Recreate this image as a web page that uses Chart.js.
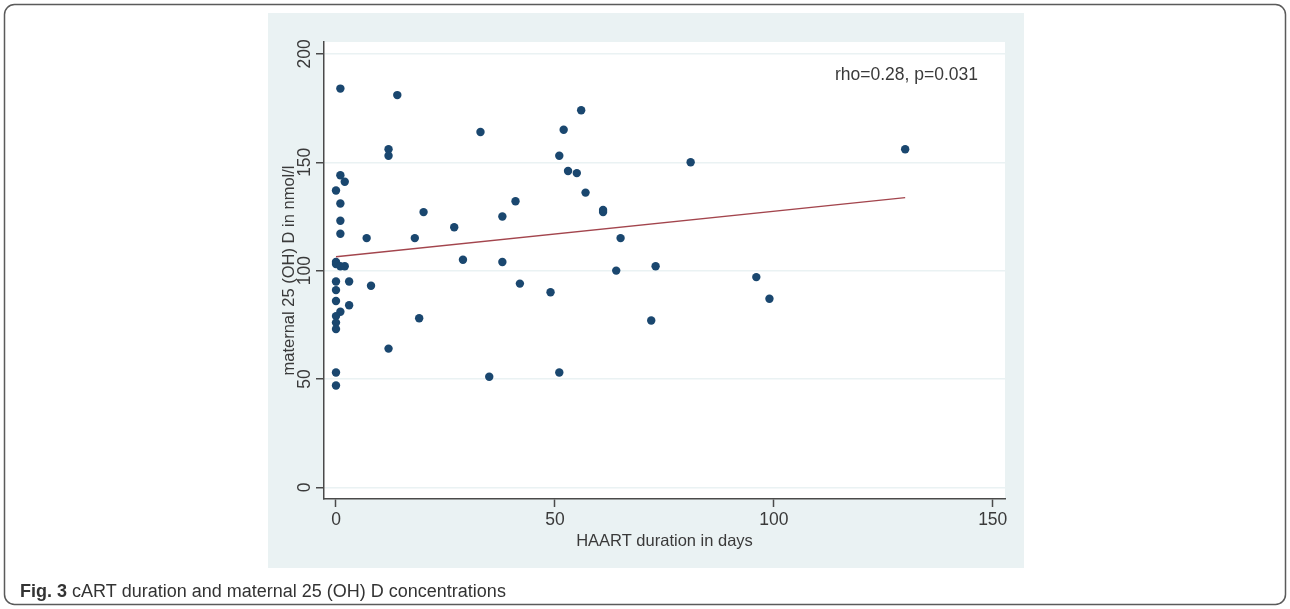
<!DOCTYPE html>
<html><head><meta charset="utf-8">
<script src="https://cdn.jsdelivr.net/npm/chart.js@4.4.1/dist/chart.umd.min.js"></script>
<style>html,body{margin:0;padding:0;background:#fff;overflow:hidden;} canvas{display:block;}</style>
</head><body>
<canvas id="c" width="1290" height="609"></canvas>
<script>
// ---- data ----
const haartDays = [1,14,33,12,12,52,51,53,55,56,57,61,61,81,65,64,73,96,99,72,51,130,
  1,2,0,1,41,20,38,1,27,1,7,18,29,38,0,0,1,2,0,3,8,42,0,49,0,3,1,0,0,0,19,12,0,0,35];
const vitD = [184,181,164,156,153,165,153,146,145,174,136,128,127,150,115,100,102,97,87,77,53,156,
  144,141,137,131,132,127,125,123,120,117,115,115,105,104,104,103,102,102,95,95,93,94,91,90,86,84,81,79,76,73,78,64,53,47,51];
const fitX = [0, 130];
const fitY = [106.4, 133.7];
const xTicks = [0, 50, 100, 150];
const yTicks = [0, 50, 100, 150, 200];
const xTitle = 'HAART duration in days';
const yTitle = 'maternal 25 (OH) D in nmol/l';
const annotationText = 'rho=0.28, p=0.031';
const captionBold = 'Fig. 3';
const captionText = ' cART duration and maternal 25 (OH) D concentrations';

const FONT = '"Liberation Sans", Arial, Helvetica, sans-serif';
const TXT = '#3a3a3a';
const AXIS = '#4a4a4a';
const PANEL = '#eaf2f3';

const framePlugin = {
  id: 'frame',
  beforeDraw(chart) {
    const ctx = chart.ctx, a = chart.chartArea;
    ctx.save();
    ctx.fillStyle = '#ffffff';
    ctx.fillRect(0, 0, chart.width, chart.height);
    ctx.strokeStyle = '#5a5a5a';
    ctx.lineWidth = 1.5;
    ctx.beginPath();
    ctx.roundRect(4.5, 4.5, 1281, 600, 10);
    ctx.stroke();
    ctx.fillStyle = PANEL;
    ctx.fillRect(268, 13, 756, 555);
    ctx.fillStyle = '#ffffff';
    ctx.fillRect(a.left, a.top, a.right - a.left, a.bottom - a.top);
    ctx.restore();
  },
  afterDraw(chart) {
    const ctx = chart.ctx, a = chart.chartArea, ys = chart.scales.y;
    ctx.save();
    ctx.fillStyle = TXT;
    ctx.font = '17.5px ' + FONT;
    ctx.textAlign = 'center';
    ctx.textBaseline = 'middle';
    yTicks.forEach(v => {
      const py = ys.getPixelForValue(v);
      ctx.save();
      ctx.translate(305, py);
      ctx.rotate(-Math.PI / 2);
      ctx.fillText(String(v), 0, 0);
      ctx.restore();
    });
    ctx.font = '16.5px ' + FONT;
    ctx.save();
    ctx.translate(289, (a.top + a.bottom) / 2);
    ctx.rotate(-Math.PI / 2);
    ctx.fillText(yTitle, 0, 0);
    ctx.restore();
    ctx.fillText(xTitle, (a.left + a.right) / 2, 541);
    ctx.font = '17.5px ' + FONT;
    ctx.textAlign = 'right';
    ctx.fillText(annotationText, 978, 75);
    ctx.textAlign = 'left';
    ctx.fillStyle = '#333333';
    ctx.font = 'bold 18px ' + FONT;
    ctx.fillText(captionBold, 20, 592);
    const w = ctx.measureText(captionBold).width;
    ctx.font = '18px ' + FONT;
    ctx.fillText(captionText, 20 + w, 592);
    ctx.restore();
  }
};

new Chart(document.getElementById('c'), {
  type: 'scatter',
  data: {
    datasets: [
      {
        type: 'scatter',
        data: haartDays.map((d, i) => ({ x: d, y: vitD[i] })),
        backgroundColor: '#1a476f',
        borderWidth: 0,
        pointRadius: 4.2,
        order: 2
      },
      {
        type: 'line',
        data: fitX.map((d, i) => ({ x: d, y: fitY[i] })),
        borderColor: '#a3454d',
        borderWidth: 1.4,
        pointRadius: 0,
        fill: false,
        order: 1
      }
    ]
  },
  options: {
    responsive: false,
    maintainAspectRatio: false,
    animation: false,
    devicePixelRatio: 1,
    layout: { padding: { left: 268, top: 42, right: 285, bottom: 0 } },
    plugins: { legend: { display: false }, tooltip: { enabled: false } },
    scales: {
      x: {
        type: 'linear',
        min: -2.74, max: 152.8,
        afterBuildTicks: s => { s.ticks = xTicks.map(v => ({ value: v })); },
        afterFit: s => { s.height = 110; },
        grid: { drawOnChartArea: false, drawTicks: true, tickLength: 8, tickColor: AXIS, tickWidth: 1.5 },
        border: { display: true, color: AXIS, width: 1.5 },
        ticks: { color: TXT, font: { family: FONT, size: 17.5 }, padding: 3, maxRotation: 0, minRotation: 0 }
      },
      y: {
        type: 'linear',
        min: -5.4, max: 205.5,
        afterBuildTicks: s => { s.ticks = yTicks.map(v => ({ value: v })); },
        afterFit: s => { s.width = 56; },
        grid: { drawOnChartArea: true, color: PANEL, lineWidth: 1.5, drawTicks: true, tickLength: 8, tickColor: AXIS, tickWidth: 1.5 },
        border: { display: true, color: AXIS, width: 1.5 },
        ticks: { display: false }
      }
    }
  },
  plugins: [framePlugin]
});
</script>
</body></html>
